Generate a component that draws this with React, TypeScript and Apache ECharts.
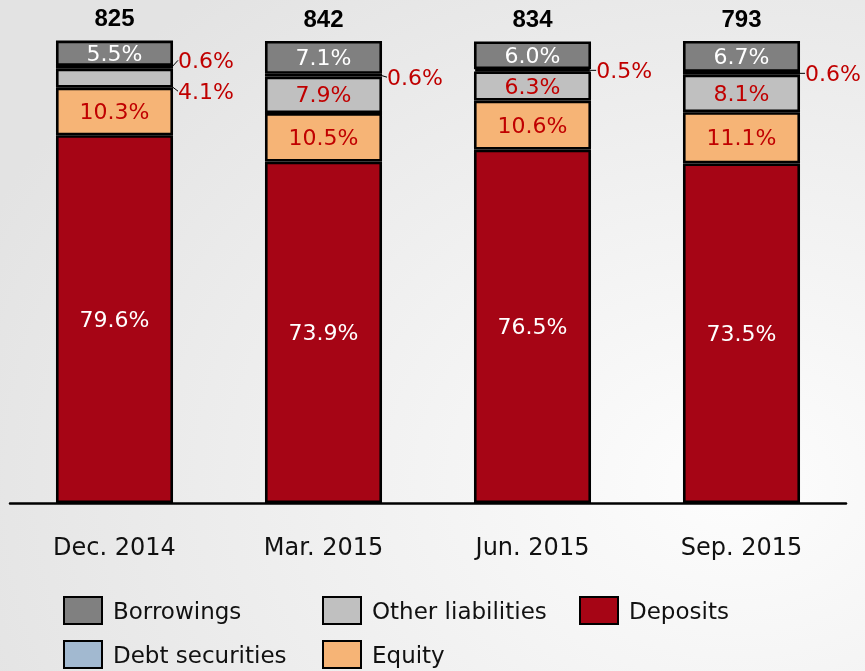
import React, { useEffect, useRef } from "react";
import * as echarts from "echarts";

const categories = ["Dec. 2014", "Mar. 2015", "Jun. 2015", "Sep. 2015"];
const totals = [825, 842, 834, 793];
const deposits = [79.6, 73.9, 76.5, 73.5];
const equity = [10.3, 10.5, 10.6, 11.1];
const otherLiabilities = [4.1, 7.9, 6.3, 8.1];
const debtSecurities = [0.6, 0.6, 0.5, 0.6];
const borrowings = [5.5, 7.1, 6.0, 6.7];

const FONT = "DejaVu Sans";
const RED_TEXT = "#c00000";

export default function App() {
  const ref = useRef<HTMLDivElement>(null);
  useEffect(() => {
    if (!ref.current) return;
    const chart = echarts.init(ref.current, null, { renderer: "svg" });
    const border = { borderColor: "#000", borderWidth: 2.6 };
    const pct = (p: any) => `${Number(p.value).toFixed(1)}%`;
    const insideLabel = (color: string) => ({
      show: true,
      position: "inside",
      color,
      fontFamily: FONT,
      fontSize: 22,
      textBorderWidth: 0,
      textShadowBlur: 0,
      formatter: pct,
    });
    const legendItem = (name: string, left: number, top: number) => ({
      data: [name],
      left,
      top,
      icon: "rect",
      itemWidth: 38,
      itemHeight: 27,
      padding: 0,
      itemStyle: { borderWidth: 2, borderColor: "#000" },
      textStyle: { fontFamily: FONT, fontSize: 23, color: "#111", padding: [0, 0, 0, 6] },
      selectedMode: false,
    });
    const debtDy = [-7, 2, 0, 0];
    const otherOutside = [true, false, false, false];
    const option: any = {
      animation: false,
      backgroundColor: {
        type: "radial",
        x: 0.85,
        y: 0.72,
        r: 0.95,
        colorStops: [
          { offset: 0, color: "#fdfdfd" },
          { offset: 1, color: "#e3e3e3" },
        ],
      },
      grid: { left: 10, right: 19, top: 41, bottom: 168 },
      xAxis: {
        type: "category",
        data: categories,
        axisLine: { show: true, lineStyle: { color: "#000", width: 2.5 } },
        axisTick: { show: false },
        axisLabel: { fontFamily: FONT, fontSize: 24, color: "#111", margin: 32 },
      },
      yAxis: { type: "value", min: 0, max: 100, show: false, splitLine: { show: false } },
      legend: [
        legendItem("Borrowings", 63, 596),
        legendItem("Other liabilities", 322, 596),
        legendItem("Deposits", 579, 596),
        legendItem("Debt securities", 63, 640),
        legendItem("Equity", 322, 640),
      ],
      series: [
        {
          name: "Deposits",
          type: "bar",
          stack: "a",
          barWidth: "56%",
          clip: false,
          data: deposits,
          itemStyle: { color: "#a60515", ...border },
          label: insideLabel("#fff"),
        },
        {
          name: "Equity",
          type: "bar",
          stack: "a",
          clip: false,
          data: equity,
          itemStyle: { color: "#f6b476", ...border },
          label: insideLabel(RED_TEXT),
        },
        {
          name: "Other liabilities",
          type: "bar",
          stack: "a",
          clip: false,
          data: otherLiabilities.map((v, i) =>
            otherOutside[i]
              ? { value: v, label: { position: "right", distance: 5 }, labelLine: { show: true } }
              : v
          ),
          itemStyle: { color: "#c0c0c0", ...border },
          label: insideLabel(RED_TEXT),
          labelLine: { show: false, lineStyle: { color: "#000", width: 1 } },
          labelLayout: (p: any) => (otherOutside[p.dataIndex] ? { dy: 13 } : {}),
        },
        {
          name: "Debt securities",
          type: "bar",
          stack: "a",
          clip: false,
          data: debtSecurities,
          itemStyle: { color: "#a2b9d0", ...border },
          label: { ...insideLabel(RED_TEXT), position: "right", distance: 5 },
          labelLine: { show: true, lineStyle: { color: "#000", width: 1 } },
          labelLayout: (p: any) => ({ dy: debtDy[p.dataIndex] }),
        },
        {
          name: "Borrowings",
          type: "bar",
          stack: "a",
          clip: false,
          data: borrowings,
          itemStyle: { color: "#808080", ...border },
          label: insideLabel("#fff"),
        },
        {
          name: "Total",
          type: "bar",
          stack: "a",
          clip: false,
          data: totals.map(() => 0),
          itemStyle: { color: "transparent", borderWidth: 0 },
          label: {
            show: true,
            position: "top",
            distance: 11,
            fontFamily: "Liberation Sans",
            fontWeight: "bold",
            fontSize: 24,
            color: "#000",
            formatter: (p: any) => String(totals[p.dataIndex]),
          },
        },
      ],
    };
    chart.setOption(option);
    return () => chart.dispose();
  }, []);
  return (
    <div
      ref={ref}
      style={{ position: "fixed", left: 0, top: 0, width: 865, height: 671 }}
    />
  );
}
